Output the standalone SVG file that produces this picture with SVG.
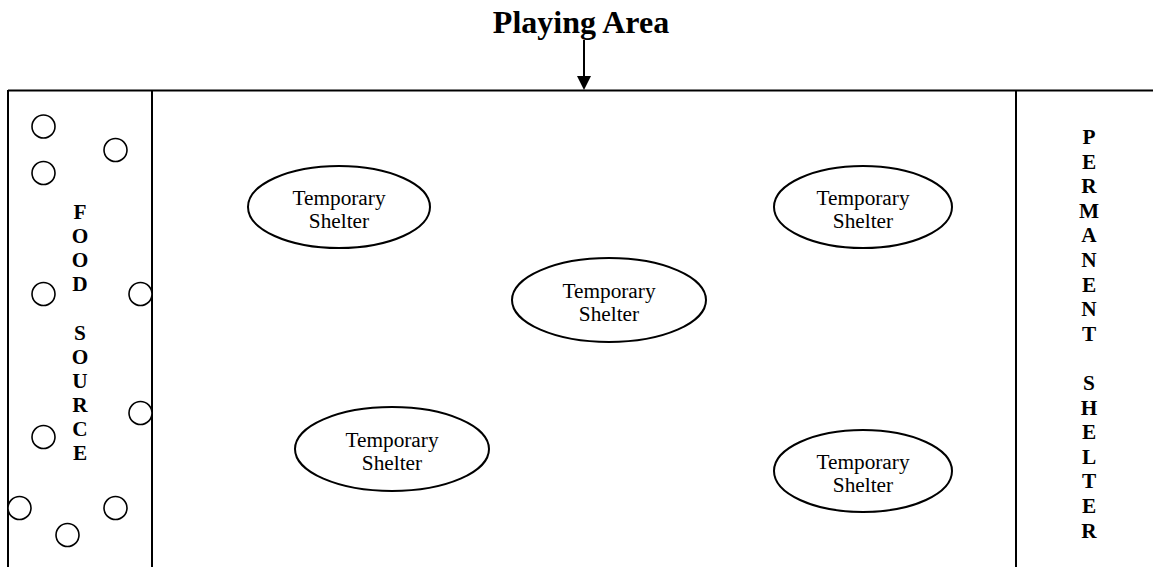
<svg xmlns="http://www.w3.org/2000/svg" width="1153" height="567" viewBox="0 0 1153 567">
<style>
.ln{stroke:#000;stroke-width:2;fill:none}
.c{stroke:#000;stroke-width:1.6;fill:#fff}
.e{stroke:#000;stroke-width:2;fill:#fff}
.t{font-family:"Liberation Serif","Times New Roman",serif;font-size:21.3px;fill:#000;text-anchor:middle}
.b{font-family:"Liberation Serif","Times New Roman",serif;font-size:21.3px;font-weight:bold;fill:#000;text-anchor:middle}
.title{font-family:"Liberation Serif","Times New Roman",serif;font-size:32px;font-weight:bold;fill:#000;text-anchor:middle}
</style>
<rect width="1153" height="567" fill="#fff"/>
<g id="title">
<text class="title" x="581" y="33">Playing Area</text>
</g>
<g id="connectors">
<line class="ln" x1="584" y1="40" x2="584" y2="77"/>
<polygon points="577,76 591,76 584,90" fill="#000"/>
</g>
<g id="field">
<line class="ln" x1="8" y1="90.5" x2="1153" y2="90.5"/>
<line class="ln" x1="8" y1="90" x2="8" y2="567"/>
<line class="ln" x1="152" y1="90" x2="152" y2="567"/>
<line class="ln" x1="1016" y1="90" x2="1016" y2="567"/>
</g>
<g id="food-source">
<circle class="c" cx="43.5" cy="126.5" r="11.5"/>
<circle class="c" cx="115.5" cy="150" r="11.5"/>
<circle class="c" cx="43.5" cy="173" r="11.5"/>
<circle class="c" cx="43.5" cy="294" r="11.5"/>
<circle class="c" cx="140.5" cy="294" r="11.5"/>
<circle class="c" cx="140.5" cy="413" r="11.5"/>
<circle class="c" cx="43.5" cy="437" r="11.5"/>
<circle class="c" cx="19.5" cy="508" r="11.5"/>
<circle class="c" cx="115.5" cy="508" r="11.5"/>
<circle class="c" cx="67.5" cy="535" r="11.5"/>
<text class="b" x="80" y="219">F</text>
<text class="b" x="80" y="243">O</text>
<text class="b" x="80" y="267">O</text>
<text class="b" x="80" y="291">D</text>
<text class="b" x="80" y="340">S</text>
<text class="b" x="80" y="364">O</text>
<text class="b" x="80" y="388">U</text>
<text class="b" x="80" y="412">R</text>
<text class="b" x="80" y="436">C</text>
<text class="b" x="80" y="460">E</text>
</g>
<g id="permanent-shelter">
<text class="b" x="1089" y="144">P</text>
<text class="b" x="1089" y="168.6">E</text>
<text class="b" x="1089" y="193.2">R</text>
<text class="b" x="1089" y="217.8">M</text>
<text class="b" x="1089" y="242.4">A</text>
<text class="b" x="1089" y="267">N</text>
<text class="b" x="1089" y="291.6">E</text>
<text class="b" x="1089" y="316.2">N</text>
<text class="b" x="1089" y="340.8">T</text>
<text class="b" x="1089" y="390">S</text>
<text class="b" x="1089" y="414.6">H</text>
<text class="b" x="1089" y="439.2">E</text>
<text class="b" x="1089" y="463.8">L</text>
<text class="b" x="1089" y="488.4">T</text>
<text class="b" x="1089" y="513">E</text>
<text class="b" x="1089" y="537.6">R</text>
</g>
<g id="shelter-1">
<ellipse class="e" cx="339" cy="207" rx="91" ry="41"/>
<text class="t" x="339" y="205">Temporary</text>
<text class="t" x="339" y="228">Shelter</text>
</g>
<g id="shelter-2">
<ellipse class="e" cx="863" cy="207" rx="89" ry="41"/>
<text class="t" x="863" y="205">Temporary</text>
<text class="t" x="863" y="228">Shelter</text>
</g>
<g id="shelter-3">
<ellipse class="e" cx="609" cy="300" rx="97" ry="42"/>
<text class="t" x="609" y="298">Temporary</text>
<text class="t" x="609" y="321">Shelter</text>
</g>
<g id="shelter-4">
<ellipse class="e" cx="392" cy="449" rx="97" ry="42"/>
<text class="t" x="392" y="447">Temporary</text>
<text class="t" x="392" y="470">Shelter</text>
</g>
<g id="shelter-5">
<ellipse class="e" cx="863" cy="471" rx="89" ry="41"/>
<text class="t" x="863" y="469">Temporary</text>
<text class="t" x="863" y="492">Shelter</text>
</g>
</svg>
